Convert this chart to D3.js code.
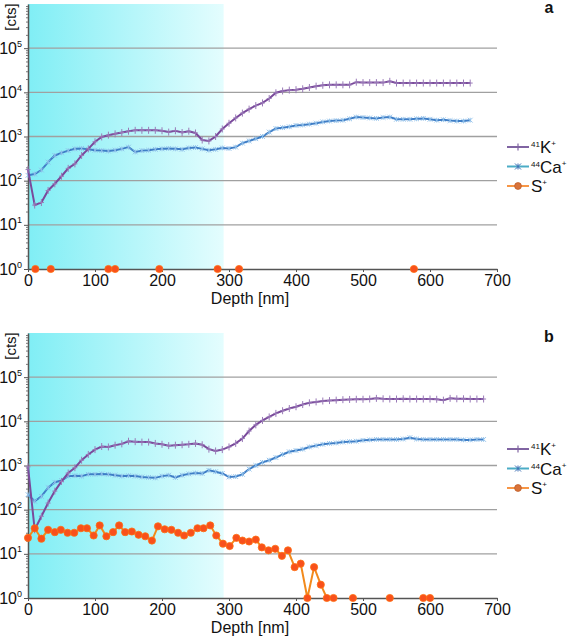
<!DOCTYPE html>
<html><head><meta charset="utf-8">
<script src="https://cdn.jsdelivr.net/npm/d3@7"></script>
<style>
body{margin:0;background:#fff}
svg{display:block;font-family:"Liberation Sans",Arial,sans-serif}
</style>
</head><body>
<svg id="chart" width="568" height="643"></svg>
<script>
// ---------- DATA ----------
const depthA = [0,10,20,30,40,50,60,70,80,90,100,110,120,130,140,150,160,170,180,190,200,210,220,230,240,250,260,270,280,290,300,310,320,330,340,350,360,370,380,390,400,410,420,430,440,450,460,470,480,490,500,510,520,530,540,550,560,570,580,590,600,610,620,630,640,650,660];
const kA = [178,28,32,60,85,126,190,240,372,525,759,977,1072,1148,1230,1318,1380,1380,1380,1380,1349,1259,1349,1230,1318,1202,832,794,1000,1479,1995,2630,3388,4169,5012,5754,7244,9772,10715,11220,11482,12023,12882,13804,14454,14791,14791,14791,14791,16982,16596,16596,16596,16596,17783,16218,16218,16218,16218,16218,16218,16218,16218,16218,16218,16218,16218];
const caA = [132,141,174,263,372,427,479,525,537,513,490,479,468,490,525,575,447,479,490,513,525,537,525,513,550,562,525,490,513,550,537,575,708,794,891,1000,1259,1514,1585,1660,1778,1820,1905,1995,2138,2239,2291,2344,2512,2754,2692,2630,2570,2692,2754,2455,2455,2455,2512,2570,2455,2344,2399,2291,2239,2239,2344];
const sDepthA = [11,21,34,44,120,130,140,196,206,283,293,315,325,576];
const sA = [1,null,1,null,1,1,null,1,null,1,null,1,null,1];

const depthB = [0,10,20,30,40,50,60,70,80,90,100,110,120,130,140,150,160,170,180,190,200,210,220,230,240,250,260,270,280,290,300,310,320,330,340,350,360,370,380,390,400,410,420,430,440,450,460,470,480,490,500,510,520,530,540,550,560,570,580,590,600,610,620,630,640,650,660,670,680];
const kB = [933,35,71,141,263,437,676,891,1318,1778,2291,2692,2630,2884,3090,3548,3467,3388,3388,3162,3020,2818,2884,2951,3020,3162,2951,2344,2138,2291,2630,3162,4074,6026,8318,10471,12589,15136,17378,19498,21380,23988,26303,27542,28840,29512,30200,30900,31300,31600,31600,32000,33100,32400,32000,32000,32400,32000,32000,32000,32000,31600,30200,33100,32400,32400,32000,32000,32000];
const caB = [219,155,200,316,417,457,575,589,575,631,631,646,631,603,575,589,575,550,537,525,575,603,537,603,646,676,661,776,724,661,550,562,631,832,1000,1175,1318,1514,1778,2042,2188,2344,2630,2818,3020,3162,3236,3388,3467,3548,3715,3802,3890,3890,3890,3890,3981,4266,3981,3890,3890,3890,3890,3890,3890,3802,3802,3890,3890];
const sDepthB = [0,10,20,30,40,49,59,69,79,88,98,107,117,127,136,145,155,165,175,185,194,204,214,224,233,243,253,262,272,281,291,301,311,320,330,340,349,359,369,379,388,398,407,417,427,437,446,456,466,485,495,540,550,590,600];
const sB = [23,38,22,35,31,35,30,30,38,38,26,44,25,31,44,31,32,27,25,20,42,36,35,30,26,30,38,38,44,26,17,15,23,20,19,21,14,12,13,9,12,5,6,1,5,2,1,1,null,1,null,1,null,1,1];

const xTicks = [0,100,200,300,400,500,600,700];
const yTickExp = [0,1,2,3,4,5];
const shadeEnd = 292;   // depth where the cyan layer ends
const panelLetters = ["a","b"];
const seriesSup = ["41","44",""];
const seriesMain = ["K","Ca","S"];
const yLabel = "[cts]";
const xLabel = "Depth [nm]";

// ---------- DRAW ----------
const svg = d3.select("#chart");
const COL = {k:"#7a4a9b", kMark:"#9a7ab8", ca:"#3f7ec6", caMark:"#8fc0ea", s:"#f28a1c", sFill:"#f8501c", sStroke:"#ff7010",
             legK:"#8064a2", legCa:"#4bacc6", legCaMark:"#3e6fb5", legS:"#f79646", legSFill:"#d9733a"};

const defs = svg.append("defs");
const grad = defs.append("linearGradient").attr("id","shade").attr("x1","0").attr("x2","1").attr("y1","0").attr("y2","0");
grad.append("stop").attr("offset","0%").attr("stop-color","#80eef5");
grad.append("stop").attr("offset","100%").attr("stop-color","#e4fdfe");

const panels = [
  {top:4, bottom:269, depth:depthA, k:kA, ca:caA, sd:sDepthA, s:sA, legY:147, letter:panelLetters[0]},
  {top:333, bottom:598, depth:depthB, k:kB, ca:caB, sd:sDepthB, s:sB, legY:449, letter:panelLetters[1]}
];

const x = d3.scaleLinear().domain([0,700]).range([28,497]);

panels.forEach(p => {
  const y = d3.scaleLog().domain([1,1e6]).range([p.bottom,p.top]);
  const g = svg.append("g");

  // shaded layer
  g.append("rect").attr("x",x(0)).attr("y",y(1e6)).attr("width",x(shadeEnd)-x(0)).attr("height",y(1)-y(1e6))
    .attr("fill","url(#shade)");

  // gridlines
  g.selectAll("line.grid").data(yTickExp.slice(1).map(e=>Math.pow(10,e))).join("line")
    .attr("x1",x(0)).attr("x2",x(700)).attr("y1",d=>y(d)).attr("y2",d=>y(d))
    .attr("stroke","#a0a0a0").attr("stroke-width",1.3);

  // y axis with minor ticks
  const minor = [];
  for (let e=0;e<6;e++) for (let m=2;m<=9;m++) minor.push(m*Math.pow(10,e));
  const yAx = g.append("g").attr("transform",`translate(${x(0)},0)`)
    .call(d3.axisLeft(y).tickValues(minor).tickSize(2).tickSizeOuter(0).tickFormat(""));
  yAx.select(".domain").attr("stroke","#555").attr("stroke-width",1.5);
  yAx.selectAll(".tick line").attr("stroke","#777");
  const yAx2 = g.append("g").attr("transform",`translate(${x(0)},0)`)
    .call(d3.axisLeft(y).tickValues(yTickExp.map(e=>Math.pow(10,e))).tickSize(4).tickSizeOuter(0).tickFormat(""));
  yAx2.select(".domain").remove();
  yAx2.selectAll(".tick line").attr("stroke","#555");

  // y tick labels 10^n
  yTickExp.forEach(e => {
    const t = g.append("text").attr("x",22).attr("y",y(Math.pow(10,e))+5.5)
      .attr("text-anchor","end").attr("fill","#111");
    t.append("tspan").attr("font-size",16).text("10");
    t.append("tspan").attr("font-size",9).attr("dy",-7).text(String(e));
  });

  // y label
  g.append("text").attr("transform",`translate(16,${p.top+13}) rotate(-90)`)
    .attr("text-anchor","middle").attr("font-size",15).attr("fill","#111").text(yLabel);

  // x axis
  const xAx = g.append("g").attr("transform",`translate(0,${p.bottom})`)
    .call(d3.axisBottom(x).tickValues(xTicks).tickSize(3).tickSizeOuter(0).tickPadding(3));
  xAx.select(".domain").attr("stroke","#555").attr("stroke-width",1.5);
  xAx.selectAll(".tick line").attr("stroke","#555");
  xAx.selectAll("text").attr("font-size",16).attr("fill","#111").attr("font-family",'"Liberation Sans",Arial,sans-serif');

  g.append("text").attr("x",250).attr("y",p.bottom+35).attr("text-anchor","middle")
    .attr("font-size",16).attr("fill","#111").text(xLabel);

  // panel letter
  g.append("text").attr("x",549).attr("y",p.top+9).attr("text-anchor","middle")
    .attr("font-size",16).attr("font-weight","bold").attr("fill","#111").text(p.letter);

  const line = d3.line().x(d=>x(d[0])).y(d=>y(d[1]));

  // Ca+
  const caPts = p.depth.map((d,i)=>[d,p.ca[i]]);
  g.append("path").attr("d",line(caPts)).attr("fill","none").attr("stroke",COL.ca).attr("stroke-width",2);
  caPts.forEach(d => {
    const cx=x(d[0]), cy=y(d[1]), r=2.4;
    g.append("path").attr("d",`M${cx-r},${cy-r}L${cx+r},${cy+r}M${cx-r},${cy+r}L${cx+r},${cy-r}M${cx},${cy-r}L${cx},${cy+r}`)
      .attr("stroke",COL.caMark).attr("stroke-width",0.9);
  });

  // K+
  const kPts = p.depth.map((d,i)=>[d,p.k[i]]);
  g.append("path").attr("d",line(kPts)).attr("fill","none").attr("stroke",COL.k).attr("stroke-width",2);
  kPts.forEach(d => {
    const cx=x(d[0]), cy=y(d[1]);
    g.append("path").attr("d",`M${cx},${cy-3.5}L${cx},${cy+3.5}M${cx-2.5},${cy}L${cx+2.5},${cy}`)
      .attr("stroke",COL.kMark).attr("stroke-width",1);
  });

  // S+
  const sPts = p.sd.map((d,i)=>[d,p.s[i]]);
  g.append("path").attr("d",line.defined(d=>d[1]!=null)(sPts)).attr("fill","none").attr("stroke",COL.s).attr("stroke-width",2);
  g.selectAll("circle.s").data(sPts.filter(d=>d[1]!=null)).join("circle")
    .attr("cx",d=>x(d[0])).attr("cy",d=>y(d[1])).attr("r",3.6)
    .attr("fill",COL.sFill).attr("stroke",COL.sStroke).attr("stroke-width",0.8);

  // legend
  const legColors = [COL.legK, COL.legCa, COL.legS];
  seriesMain.forEach((name,i) => {
    const ly = p.legY + i*19.5;
    g.append("line").attr("x1",507).attr("x2",529).attr("y1",ly).attr("y2",ly)
      .attr("stroke",legColors[i]).attr("stroke-width",2);
    const cx = 518;
    if (i===0) {
      g.append("path").attr("d",`M${cx},${ly-3.5}L${cx},${ly+3.5}`).attr("stroke",COL.legK).attr("stroke-width",1.2);
    } else if (i===1) {
      const r=3;
      g.append("path").attr("d",`M${cx-r},${ly-r}L${cx+r},${ly+r}M${cx-r},${ly+r}L${cx+r},${ly-r}M${cx},${ly-r}L${cx},${ly+r}`)
        .attr("stroke",COL.legCaMark).attr("stroke-width",1);
    } else {
      g.append("circle").attr("cx",cx).attr("cy",ly).attr("r",3.4).attr("fill",COL.legSFill).attr("stroke","#c0602a").attr("stroke-width",0.8);
    }
    const t = g.append("text").attr("x",531).attr("y",ly+6).attr("fill","#111");
    if (seriesSup[i]) t.append("tspan").attr("font-size",8).attr("dy",-6).text(seriesSup[i]);
    t.append("tspan").attr("font-size",17).attr("dy",seriesSup[i]?6:0).text(name);
    t.append("tspan").attr("font-size",8).attr("dy",-7).text("+");
  });
});
</script>
</body></html>
